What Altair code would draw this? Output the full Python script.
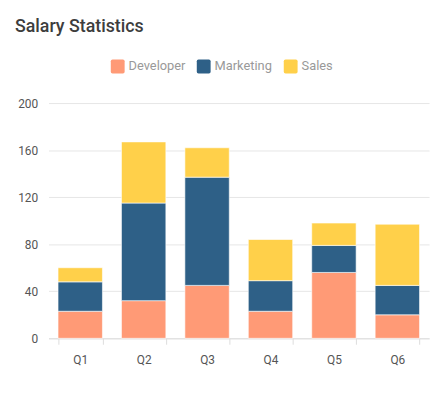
import altair as alt
import pandas as pd

quarters = ["Q1", "Q2", "Q3", "Q4", "Q5", "Q6"]
series = ["Developer", "Marketing", "Sales"]
developer = [23, 32, 45, 23, 56, 20]
marketing = [25, 83, 92, 26, 23, 25]
sales = [12, 52, 25, 35, 19, 52]
colors = ["#FF9A76", "#2E6087", "#FFD04A"]

rows = []
for i, q in enumerate(quarters):
    for j, (s, vals) in enumerate(zip(series, [developer, marketing, sales])):
        rows.append({"quarter": q, "series": s, "order": j, "value": vals[i]})
df = pd.DataFrame(rows)

rounded_square = ("M-0.75,-1 L0.75,-1 Q1,-1 1,-0.75 L1,0.75 Q1,1 0.75,1 "
                  "L-0.75,1 Q-1,1 -1,0.75 L-1,-0.75 Q-1,-1 -0.75,-1 Z")

chart = alt.Chart(df).mark_bar(stroke="white", strokeWidth=1, strokeOpacity=0.6).encode(
    x=alt.X("quarter:N", sort=quarters, title=None,
            scale=alt.Scale(paddingInner=0.3, paddingOuter=0.15),
            axis=alt.Axis(labelAngle=0, tickBand="extent", domainColor="#dddddd",
                          tickColor="#dddddd", tickSize=6, labelColor="#555555",
                          labelFontSize=12, labelPadding=10, labelFont="Roboto")),
    y=alt.Y("value:Q", stack="zero", title=None,
            scale=alt.Scale(domain=[0, 200], nice=False),
            axis=alt.Axis(values=[0, 40, 80, 120, 160, 200], domain=False, ticks=False,
                          gridColor="#e6e6e6", labelColor="#555555", labelFontSize=12,
                          labelPadding=11, labelFont="Roboto")),
    color=alt.Color("series:N", sort=series,
                    scale=alt.Scale(domain=series, range=colors),
                    legend=alt.Legend(title=None, orient="none", direction="horizontal",
                                      legendX=63, legendY=-44, symbolType=rounded_square,
                                      symbolSize=196, symbolStrokeWidth=0,
                                      labelColor="#999999", labelFontSize=13,
                                      labelFont="Roboto", columnPadding=11,
                                      labelOffset=4)),
    order=alt.Order("order:Q"),
).properties(
    width=385,
    height=238,
    title=alt.TitleParams("Salary Statistics", anchor="start", frame="group",
                          dx=-34, dy=-20, font="Roboto", fontSize=18, fontWeight=500,
                          color="#3d3d3d"),
    autosize=alt.AutoSizeParams(type="none"),
    padding={"left": 41, "top": 94, "right": 5, "bottom": 40},
).configure_view(stroke=None)

chart.save("out.html", embed_options={"renderer": "svg", "actions": False})
